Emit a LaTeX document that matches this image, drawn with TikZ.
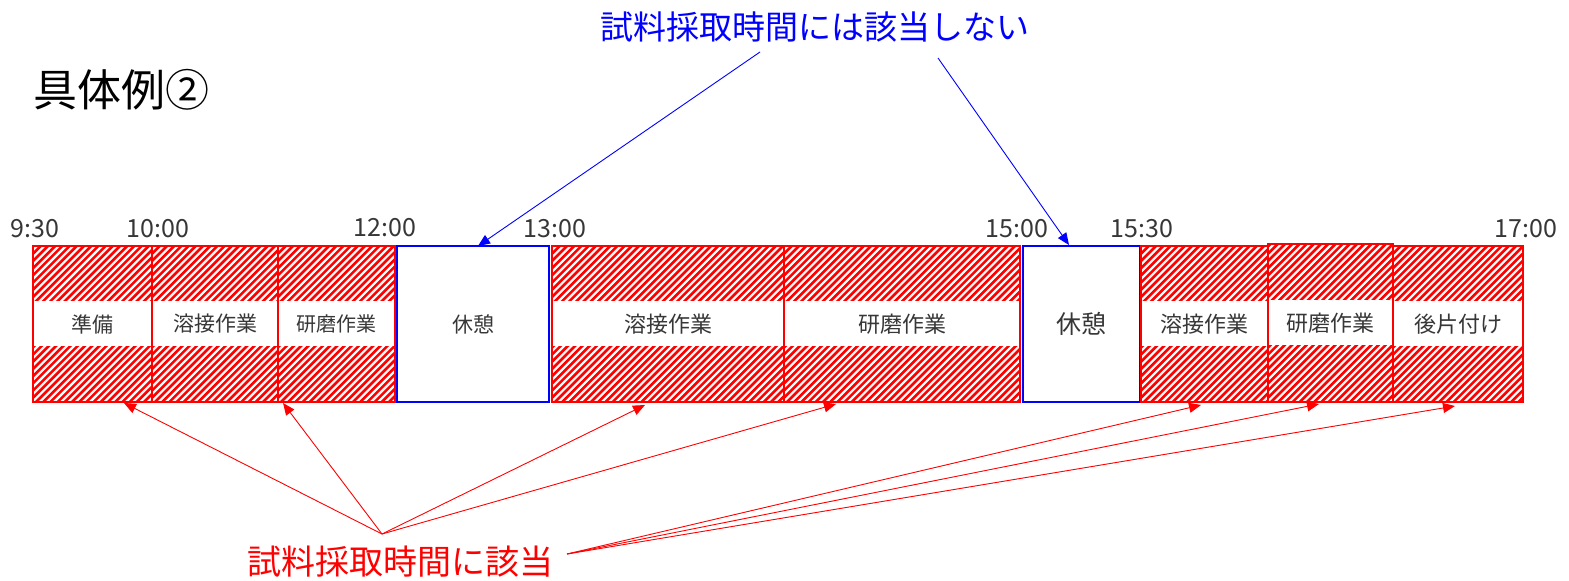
\documentclass[tikz,border=0pt]{standalone}
\usepackage{fontspec}
\setmainfont{Noto Sans CJK JP}
\usetikzlibrary{arrows.meta,calc}
\definecolor{pred}{RGB}{255,0,0}
\definecolor{pblue}{RGB}{0,0,255}
\definecolor{ink}{RGB}{55,55,55}
\begin{document}
\begin{tikzpicture}[x=1pt,y=-1pt,
  hatchbox/.style={draw=pred, line width=1.6pt, inner sep=0pt, outer sep=0pt,
    anchor=north west, minimum height=156pt, text=ink,
    font=\fontsize{21}{21}\selectfont,
    path picture={
      \foreach \i in {-40,...,40}{
        \draw[pred, line width=2.6pt]
          ($(path picture bounding box.south west)+(\i*7.2pt,-3pt)$) -- ++(175pt,175pt);
      }
      \fill[white] ($(path picture bounding box.west)+(0pt,23pt)$)
        rectangle ($(path picture bounding box.east)+(0pt,-22pt)$);
    }},
  restbox/.style={draw=pblue, line width=1.8pt, fill=white, inner sep=0pt, outer sep=0pt,
    anchor=north west, minimum height=156pt, text=ink},
  timelbl/.style={text=ink, font=\fontsize{25}{25}\selectfont, inner sep=0pt},
  redarr/.style={draw=pred, line width=0.9pt, -{Triangle[length=12pt,width=10pt]}},
  bluearr/.style={draw=pblue, line width=0.9pt, -{Triangle[length=12pt,width=10pt]}}
]
\useasboundingbox (0,0) rectangle (1569,581);

% title
\node[font=\fontsize{44}{44}\selectfont, text=black, inner sep=0pt] (title) at (122,90) {具体例②};

% boxes
\node[hatchbox, minimum width=119pt] (b1) at (33,246) {準備};
\node[hatchbox, minimum width=126pt] (b2) at (152,246) {溶接作業};
\node[hatchbox, minimum width=117pt, font=\fontsize{20}{20}\selectfont] (b3) at (278,246) {研磨作業};
\node[restbox, minimum width=152pt, font=\fontsize{21}{21}\selectfont] (k1) at (397,246) {休憩};
\node[hatchbox, minimum width=232pt, font=\fontsize{22}{22}\selectfont] (b4) at (552,246) {溶接作業};
\node[hatchbox, minimum width=236pt, font=\fontsize{22}{22}\selectfont] (b5) at (784,246) {研磨作業};
\node[restbox, minimum width=117pt, font=\fontsize{25}{25}\selectfont] (k2) at (1023,246) {休憩};
\node[hatchbox, minimum width=127pt, font=\fontsize{22}{22}\selectfont] (b6) at (1141,246) {溶接作業};
\node[hatchbox, minimum width=125pt, minimum height=158pt, font=\fontsize{22}{22}\selectfont] (b7) at (1268,244) {研磨作業};
\node[hatchbox, minimum width=130pt, font=\fontsize{22}{22}\selectfont] (b8) at (1393,246) {後片付け};

% time labels
\node[timelbl] (t1) at (35,229) {9:30};
\node[timelbl] (t2) at (158,229) {10:00};
\node[timelbl] (t3) at (385,228) {12:00};
\node[timelbl] (t4) at (555,229) {13:00};
\node[timelbl] (t5) at (1017,229) {15:00};
\node[timelbl] (t6) at (1142,229) {15:30};
\node[timelbl] (t7) at (1526,229) {17:00};

% blue label and arrows
\node[text=pblue, font=\fontsize{33}{33}\selectfont, inner sep=0pt] (blbl) at (815,27) {試料採取時間には該当しない};
\coordinate (bc1) at (760,52);
\coordinate (bc2) at (938,58);
\draw[bluearr] (bc1) -- ([xshift=5pt]k1.north);
\draw[bluearr] (bc2) -- ([xshift=-12.5pt,yshift=1pt]k2.north);

% red label and arrows
\node[text=pred, font=\fontsize{34}{34}\selectfont, inner sep=0pt] (rlbl) at (400,562) {試料採取時間に該当};
\coordinate (rc1) at (382,534);
\coordinate (rc2) at (567,554);
\draw[redarr] (rc1) -- ([xshift=31.5pt,yshift=-1pt]b1.south);
\draw[redarr] (rc1) -- ([xshift=-53.5pt,yshift=-1pt]b3.south);
\draw[redarr] (rc1) -- ([xshift=-23pt,yshift=-3pt]b4.south);
\draw[redarr] (rc1) -- ([xshift=-66pt,yshift=-2pt]b5.south);
\draw[redarr] (rc2) -- ([xshift=-3.5pt,yshift=-3pt]b6.south);
\draw[redarr] (rc2) -- ([xshift=-11.5pt,yshift=-2pt]b7.south);
\draw[redarr] (rc2) -- ([xshift=-3pt,yshift=-4pt]b8.south);
\end{tikzpicture}
\end{document}
